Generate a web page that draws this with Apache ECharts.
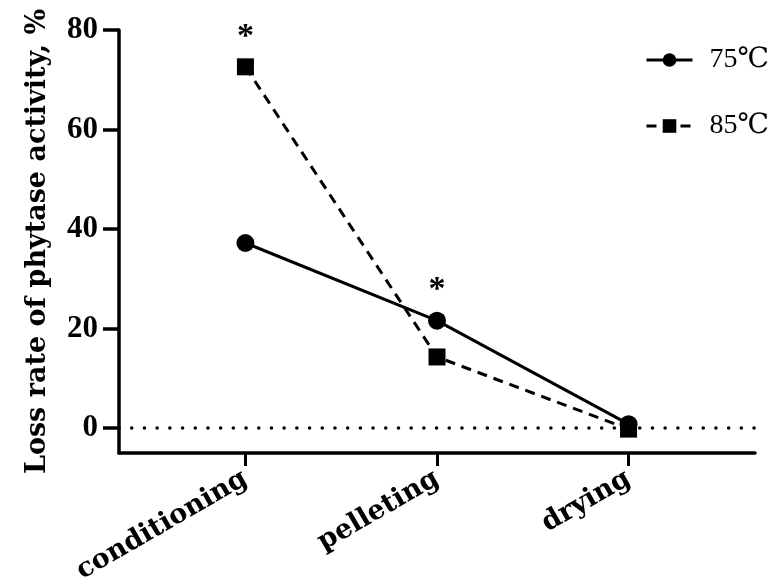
<!DOCTYPE html>
<html><head><meta charset="utf-8">
<script src="https://cdn.jsdelivr.net/npm/echarts@6/dist/echarts.min.js"></script>
<style>html,body{margin:0;padding:0;background:#fff}#c{width:784px;height:588px}</style>
</head><body><div id="c"></div>
<script>
const categories = ['conditioning', 'pelleting', 'drying'];
const series75 = [37.2, 21.6, 0.8];
const series85 = [72.6, 14.3, -0.2];
const star75 = [false, true, false];
const star85 = [true, false, false];
const yTicks = [0, 20, 40, 60, 80];
const seriesNames = ['75℃', '85℃'];

const serif = '"Liberation Serif", "DejaVu Serif", serif';
const wide = '"DejaVu Serif", serif';
const chart = echarts.init(document.getElementById('c'));

function pts(vals, stars) {
  return vals.map((v, i) => ({
    value: [i, v],
    label: stars[i] ? { show: true } : { show: false }
  }));
}
const starLabel = {
  formatter: '*', position: 'top', distance: 4,
  fontSize: 34, fontWeight: 'bold', color: '#000', fontFamily: serif
};

chart.setOption({
  animation: false,
  grid: { left: 119, right: 29, top: 30, bottom: 135 },
  legend: {
    orient: 'vertical', left: 640, top: 41, itemGap: 38,
    itemWidth: 46, itemHeight: 17,
    lineStyle: { width: 3 },
    textStyle: { fontSize: 28, fontFamily: serif, color: '#000', padding: [0, 0, 0, 12] },
    data: seriesNames
  },
  xAxis: {
    type: 'value', min: -0.66, max: 2.66,
    splitLine: { show: false },
    axisLine: { onZero: false, lineStyle: { color: '#000', width: 3.5 } },
    axisTick: { show: true, length: 13, lineStyle: { color: '#000', width: 3 }, customValues: [0, 1, 2] },
    axisLabel: {
      customValues: [0, 1, 2],
      formatter: v => categories[Math.round(v)] || '',
      rotate: 30, margin: 24, fontSize: 27, fontWeight: 'bold',
      fontFamily: wide, color: '#000'
    }
  },
  yAxis: {
    type: 'value', min: -5, max: 80,
    name: 'Loss rate of phytase activity, %', nameLocation: 'middle', nameGap: 68,
    nameTextStyle: { fontSize: 27, fontWeight: 'bold', fontFamily: wide, color: '#000' },
    splitLine: { show: false },
    axisLine: { show: true, onZero: false, lineStyle: { color: '#000', width: 3.5 } },
    axisTick: { show: true, length: 16, lineStyle: { color: '#000', width: 3.5 }, customValues: yTicks },
    axisLabel: {
      customValues: yTicks, margin: 21, fontSize: 31, fontWeight: 'bold',
      fontFamily: serif, color: '#000'
    }
  },
  series: [
    {
      name: seriesNames[0], type: 'line', data: pts(series75, star75),
      symbol: 'circle', symbolSize: 18, z: 3,
      lineStyle: { color: '#000', width: 3 }, itemStyle: { color: '#000' },
      label: starLabel,
      markLine: {
        silent: true, symbol: 'none', label: { show: false },
        lineStyle: { color: '#000', width: 3.5, type: [0.1, 12.6], cap: 'round' },
        data: [{ yAxis: 0 }]
      }
    },
    {
      name: seriesNames[1], type: 'line', data: pts(series85, star85),
      symbol: 'rect', symbolSize: 17, z: 2,
      lineStyle: { color: '#000', width: 3, type: [10, 7] }, itemStyle: { color: '#000' },
      label: starLabel
    }
  ]
});
</script></body></html>
